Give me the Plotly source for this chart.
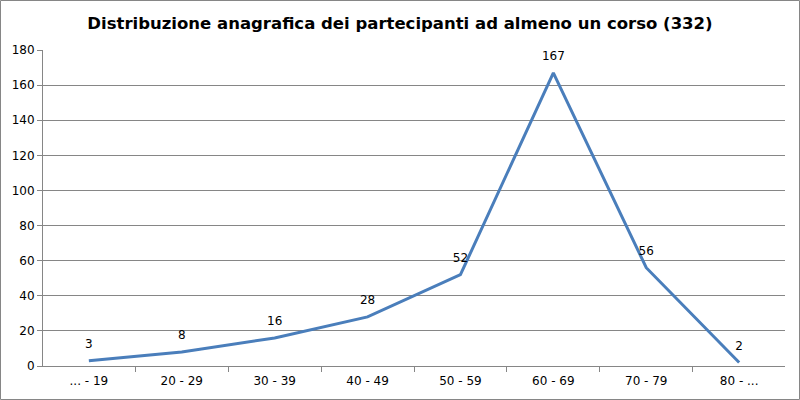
import plotly.graph_objects as go

categories = ["... - 19", "20 - 29", "30 - 39", "40 - 49", "50 - 59", "60 - 69", "70 - 79", "80 - ..."]
partecipanti = [3, 8, 16, 28, 52, 167, 56, 2]
y_ticks = [0, 20, 40, 60, 80, 100, 120, 140, 160, 180]

FONT = "DejaVu Sans"
W, H = 800, 400
L, R, T, B = 43, 15, 50, 34
pw, ph = W - L - R, H - T - B

fig = go.Figure()
fig.add_trace(go.Scatter(
    x=categories,
    y=partecipanti,
    mode="lines+markers+text",
    text=[str(v) for v in partecipanti],
    textposition="top center",
    textfont=dict(family=FONT, size=12, color="#000000"),
    line=dict(color="#4a7ebb", width=3),
    # invisible markers only used to push the labels above the points
    marker=dict(size=14, color="rgba(0,0,0,0)"),
    cliponaxis=False,
    hoverinfo="x+y",
))

fig.update_layout(
    width=W,
    height=H,
    margin=dict(l=L, r=R, t=T, b=B),
    paper_bgcolor="white",
    plot_bgcolor="white",
    showlegend=False,
    title=dict(
        text="<b>Distribuzione anagrafica dei partecipanti ad almeno un corso (332)</b>",
        x=0.5,
        xanchor="center",
        y=1 - 23 / H,
        yanchor="middle",
        font=dict(family=FONT, size=16.5, color="#000000"),
    ),
    font=dict(family=FONT, size=12, color="#000000"),
    xaxis=dict(
        type="category",
        automargin=False,
        tickson="boundaries",
        ticks="outside",
        ticklen=5,
        tickcolor="#868686",
        ticklabelstandoff=4,
        showline=True,
        linecolor="#868686",
        showgrid=False,
        tickfont=dict(family=FONT, size=12),
    ),
    yaxis=dict(
        range=[0, 180],
        automargin=False,
        tickvals=y_ticks,
        ticks="outside",
        ticklen=5,
        tickcolor="#868686",
        showline=True,
        linecolor="#868686",
        showgrid=True,
        gridcolor="#868686",
        gridwidth=1,
        zeroline=False,
        tickfont=dict(family=FONT, size=12),
    ),
    shapes=[dict(
        type="rect",
        xref="paper",
        yref="paper",
        x0=-(L - 0.5) / pw,
        x1=1 + (R - 0.5) / pw,
        y0=-(B - 0.5) / ph,
        y1=1 + (T - 0.5) / ph,
        line=dict(color="#868686", width=1),
        layer="below",
    )],
)

# the page body has a default 8px margin; drop it so the chart fills the window
fig.write_html(
    "out.html",
    config={"displayModeBar": False},
    post_script="document.body.style.margin='0';",
)
